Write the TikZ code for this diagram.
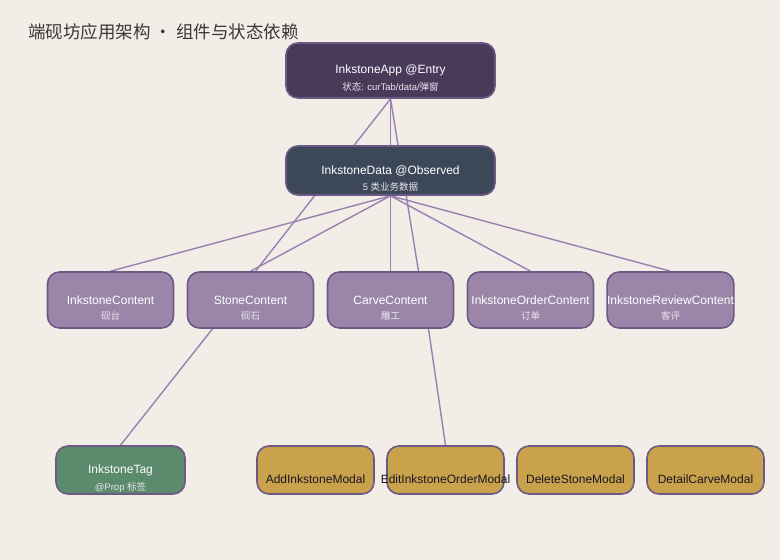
\documentclass[tikz,border=0pt]{standalone}
\usepackage{fontspec}
\setmainfont{Liberation Sans}
\newfontfamily\cjk{Noto Sans CJK SC}
\usetikzlibrary{calc}
\definecolor{paper}{HTML}{F2EDE6}
\definecolor{cardline}{HTML}{6B5A85}
\definecolor{appfill}{HTML}{4A3A5A}
\definecolor{datafill}{HTML}{3C4858}
\definecolor{rowfill}{HTML}{9B86A9}
\definecolor{tagfill}{HTML}{5C8A6C}
\definecolor{modalfill}{HTML}{C9A24B}
\definecolor{linkcol}{HTML}{9A80B0}
\definecolor{subcol}{HTML}{EAE4EE}
\pgfdeclarelayer{bg}
\pgfdeclarelayer{edge}
\pgfsetlayers{bg,edge,main}
\tikzset{card/.style={draw=cardline,line width=1.6pt,rounded corners=12pt,fill=#1,
		minimum width=126pt,minimum height=56pt,inner sep=0pt,text=white,
		font=\fontsize{12}{14}\selectfont},card/.default=rowfill,
	sub/.style={text=subcol,inner sep=0pt,font=\fontsize{9.5}{11}\selectfont},
	modal/.style={card=modalfill,minimum width=117pt,minimum height=48pt},
	link/.style={draw=linkcol,line width=1.4pt}}

\begin{document}
\begin{tikzpicture}[x=1pt,y=-1pt]

		\begin{pgfonlayer}{bg}
			\fill [paper] (0,0) rectangle (780,560);
		\end{pgfonlayer}
		\useasboundingbox (0,0) rectangle (780,560);

		\node [anchor=west,inner sep=0pt,text=black!78,font=\cjk\fontsize{17.5}{20}\selectfont]
			(title) at (28,32) {端砚坊应用架构 · 组件与状态依赖};

		% top
		\node [card=appfill,minimum width=209pt,minimum height=55pt] (app) at (390.5,70.5)
			{InkstoneApp @Entry};
		\node [sub] (appsub) at ([yshift=-16pt]app.center)
			{{\cjk 状态}: curTab/data/{\cjk 弹窗}};

		\node [card=datafill,minimum width=209pt,minimum height=49pt] (data) at (390.5,170.5)
			{InkstoneData @Observed};
		\node [sub] (datasub) at ([yshift=-16pt]data.center)
			{5 {\cjk 类业务数据}};

		% content row
		\node [card] (inkstone) at (110.5,300) {InkstoneContent};
		\node [card] (stone) at (250.5,300) {StoneContent};
		\node [card] (carve) at (390.5,300) {CarveContent};
		\node [card] (order) at (530.5,300) {InkstoneOrderContent};
		\node [card] (review) at (670.5,300) {InkstoneReviewContent};
		\foreach \n/\t in {inkstone/砚台,stone/砚石,carve/雕工,order/订单,review/客评}
			\node [sub,font=\cjk\fontsize{9.5}{11}\selectfont] (\n sub) at ([yshift=-16pt]\n.center) {\t};

		% bottom row
		\node [card=tagfill,minimum width=129pt,minimum height=48pt] (tag) at (120.5,470)
			{InkstoneTag};
		\node [sub] (tagsub) at ([yshift=-17pt]tag.center) {@Prop {\cjk 标签}};

		\node [modal] (addm) at (315.5,470) {};
		\node [modal] (editm) at (445.5,470) {};
		\node [modal] (delm) at (575.5,470) {};
		\node [modal] (detm) at (705.5,470) {};
		\foreach \n/\t in {addm/AddInkstoneModal,editm/EditInkstoneOrderModal,
				delm/DeleteStoneModal,detm/DetailCarveModal}
			\node [inner sep=0pt,text=black!75!cardline,font=\fontsize{12}{14}\selectfont]
				(\n text) at ([yshift=-9pt]\n.center) {\t};

		% links
		\begin{pgfonlayer}{edge}
			\draw [link] (app.south) -- (data.north);
			\draw [link] (app.south) -- ([xshift=5pt]stone.north);
			\draw [link] (app.south) -- ([xshift=28pt]carve.north);
			\foreach \n in {inkstone,stone,carve,order,review}
				\draw [link] (data.south) -- (\n.north);
			\draw [link] ([xshift=-38pt]stone.south) -- (tag.north);
			\draw [link] ([xshift=38pt]carve.south) -- (editm.north);
		\end{pgfonlayer}

	\end{tikzpicture}
\end{document}
